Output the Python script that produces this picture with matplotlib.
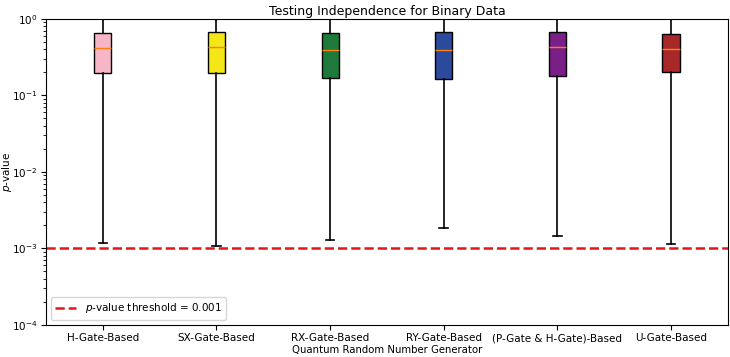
import matplotlib
matplotlib.use("Agg")
import matplotlib.pyplot as plt

categories = ["H-Gate-Based", "SX-Gate-Based", "RX-Gate-Based", "RY-Gate-Based",
              "(P-Gate & H-Gate)-Based", "U-Gate-Based"]
whisker_low = [0.00118, 0.00108, 0.00129, 0.00186, 0.00145, 0.00114]
q1 = [0.197, 0.197, 0.169, 0.164, 0.180, 0.203]
median = [0.418, 0.430, 0.390, 0.390, 0.430, 0.405]
q3 = [0.656, 0.676, 0.656, 0.676, 0.676, 0.636]
whisker_high = [0.999, 0.999, 0.999, 0.999, 0.999, 0.999]
colors = ["#f7b6c8", "#f5e616", "#1d7a3a", "#2c4a9c", "#7b1f88", "#a82828"]
threshold = 0.001

stats = []
for i, name in enumerate(categories):
    stats.append(dict(label=name, whislo=whisker_low[i], q1=q1[i], med=median[i],
                      q3=q3[i], whishi=whisker_high[i], fliers=[]))

fig = plt.figure(figsize=(7.3, 3.57), dpi=100)
ax = fig.add_axes([0.063, 0.09, 0.934, 0.857])
bp = ax.bxp(stats, positions=range(1, len(categories) + 1), widths=0.15,
            patch_artist=True, showfliers=False,
            medianprops=dict(color="#ff7f0e", linewidth=1.0),
            whiskerprops=dict(color="black", linewidth=1.2),
            capprops=dict(color="black", linewidth=1.2),
            boxprops=dict(edgecolor="black", linewidth=1.0))
for patch, c in zip(bp["boxes"], colors):
    patch.set_facecolor(c)

ax.axhline(threshold, color="#e8141b", linestyle="--", linewidth=1.8,
           label="$p$-value threshold = 0.001")
ax.set_yscale("log")
ax.set_ylim(1e-4, 1)
ax.set_xlim(0.5, 6.5)
ax.tick_params(labelsize=7.5, pad=2.5)
ax.set_title("Testing Independence for Binary Data", fontsize=9, pad=3)
ax.set_xlabel("Quantum Random Number Generator", fontsize=7.3, labelpad=1)
ax.set_ylabel("$p$-value", fontsize=7.5)
ax.yaxis.set_label_coords(-0.047, 0.5)
ax.legend(loc="lower left", fontsize=7.5)
fig.savefig("out.png", dpi=100)
